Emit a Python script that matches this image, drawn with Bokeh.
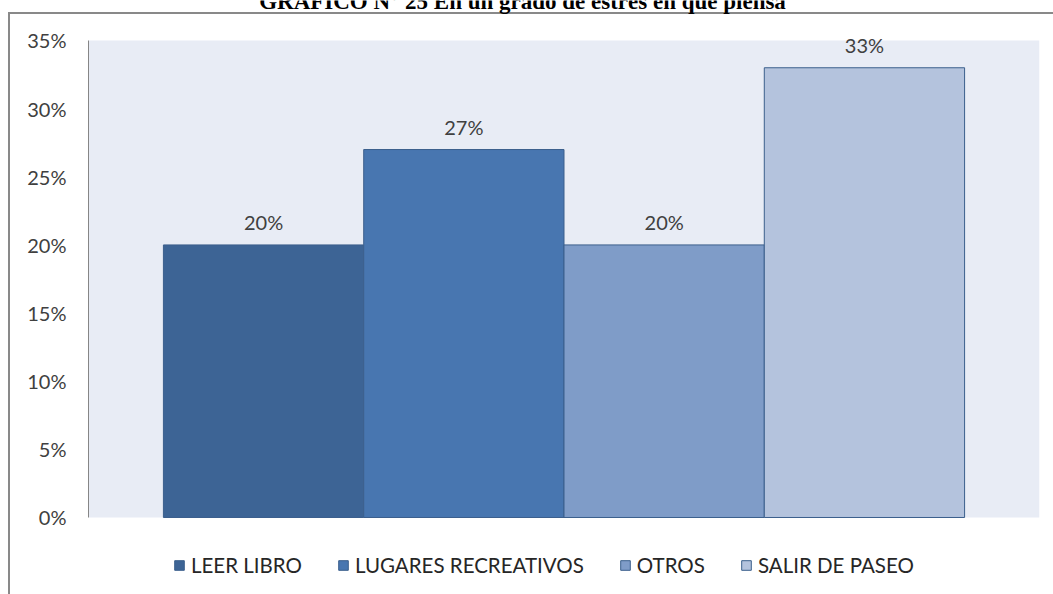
from bokeh.plotting import figure
from bokeh.models import (ColumnDataSource, FixedTicker, NumeralTickFormatter, Legend,
                          LegendItem, Label, LabelSet, BoxAnnotation, Range1d)
from bokeh.core.properties import value
from bokeh.embed import file_html
from bokeh.resources import INLINE

title_text = "GRAFICO N° 25 En un grado de estrés en que piensa"
categories = ["LEER LIBRO", "LUGARES RECREATIVOS", "OTROS", "SALIR DE PASEO"]
values_pct = [20, 27, 20, 33]
colors = ["#3D6495", "#4876B0", "#7F9CC8", "#B4C3DD"]
y_ticks = [0, 5, 10, 15, 20, 25, 30, 35]

W, H = 1053, 594
p = figure(width=W, height=H, output_backend="svg", toolbar_location=None,
           x_range=Range1d(-0.874, 3.874), y_range=Range1d(-0.0565, 0.37935),
           x_axis_location=None,
           min_border_left=88, min_border_right=14, min_border_top=0, min_border_bottom=0)
p.background_fill_alpha = 0
p.border_fill_alpha = 0
p.outline_line_color = None
p.xgrid.visible = False
p.ygrid.visible = False
# outer chart border (left and top edges) drawn behind the transparent canvas
p.styles = {
    "background-color": "white",
    "background-image": "linear-gradient(#898989, #898989), linear-gradient(#898989, #898989)",
    "background-size": "2px 100%, 100% 2px",
    "background-position": "8px 12px, 8px 12px",
    "background-repeat": "no-repeat",
}

# plot-area background (0% .. 35%)
p.add_layout(BoxAnnotation(bottom=0, top=y_ticks[-1] / 100, fill_color="#E8ECF5",
                           fill_alpha=1, line_alpha=0, level="underlay"))

src = ColumnDataSource(dict(
    x=list(range(len(categories))),
    top=[v / 100 for v in values_pct],
    cat=categories,
    color=colors,
    label=[f"{v}%" for v in values_pct],
))
r = p.vbar(x="x", top="top", bottom=0, width=1, fill_color="color",
           line_color="#3B5F8C", line_width=1, source=src)

labels = LabelSet(x="x", y="top", text="label", source=src, text_align="center",
                  text_baseline="alphabetic", y_offset=15, text_font=value("Lato"),
                  text_font_size=value("20px"), text_color="#404040")
p.add_layout(labels)

ax = p.yaxis[0]
ax.ticker = FixedTicker(ticks=[t / 100 for t in y_ticks])
ax.formatter = NumeralTickFormatter(format="0%")
ax.bounds = (0, y_ticks[-1] / 100)
ax.axis_line_color = "#868686"
ax.axis_line_width = 1
ax.major_tick_line_color = None
ax.minor_tick_line_color = None
ax.major_tick_in = 0
ax.major_tick_out = 0
ax.major_label_standoff = 22
ax.major_label_text_font = "Lato"
ax.major_label_text_font_size = "20px"
ax.major_label_text_color = "#404040"

legend = Legend(items=[LegendItem(label=c, renderers=[r], index=i) for i, c in enumerate(categories)],
                orientation="horizontal", location=(85, 17), glyph_width=12, glyph_height=12,
                label_standoff=6, spacing=35, padding=0, margin=0, border_line_color=None,
                background_fill_alpha=0, label_text_font="Lato", label_text_font_size="20.5px",
                label_text_color="#262626")
p.add_layout(legend)

p.add_layout(Label(x=434, y=593, x_units="screen", y_units="screen", text=title_text,
                   text_align="center", text_baseline="alphabetic",
                   text_font="Liberation Serif", text_font_style="bold",
                   text_font_size="23px", text_color="black"))

open("out.html", "w").write(file_html(p, INLINE))
